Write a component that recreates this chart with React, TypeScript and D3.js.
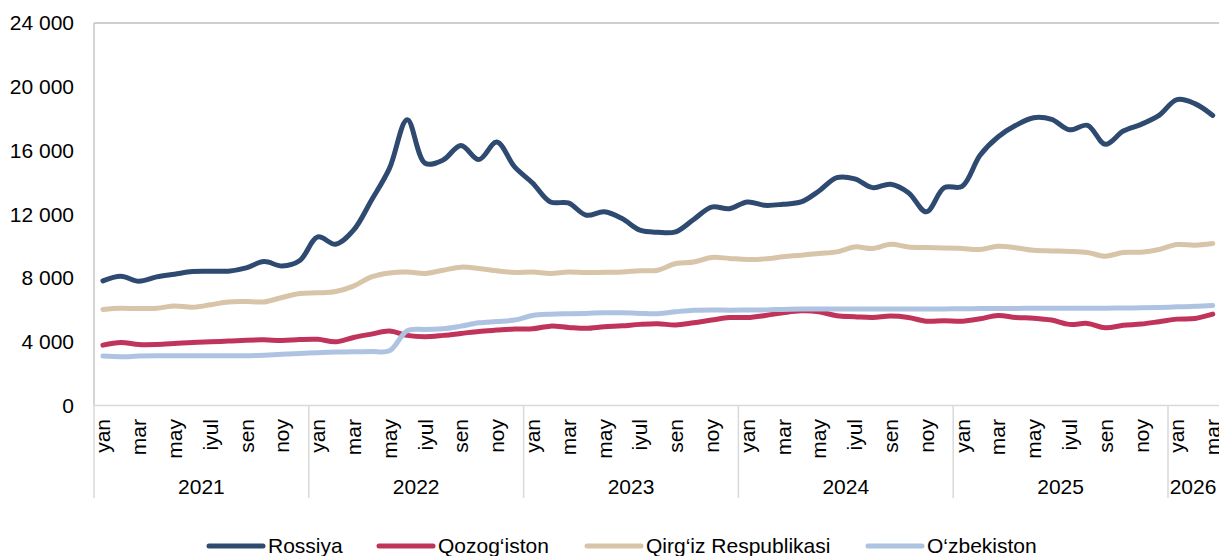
import React from "react";
import * as d3 from "d3";

const years = ["2021", "2022", "2023", "2024", "2025", "2026"];
const monthNames = ["yan", "fev", "mar", "apr", "may", "iyun", "iyul", "avg", "sen", "okt", "noy", "dek"];
const yTicks = [0, 4000, 8000, 12000, 16000, 20000, 24000];

const rossiya = [
  7.82, 8.11, 7.8, 8.07, 8.24, 8.41, 8.43, 8.43, 8.64, 9.03, 8.76, 9.1,
  10.58, 10.12, 11.0, 12.88, 14.86, 17.93, 15.2, 15.4, 16.32, 15.43, 16.53, 14.97,
  13.96, 12.77, 12.71, 11.94, 12.15, 11.73, 11.0, 10.87, 10.9, 11.67, 12.45, 12.35,
  12.77, 12.56, 12.63, 12.77, 13.46, 14.3, 14.22, 13.67, 13.88, 13.35, 12.15, 13.67,
  13.75, 15.7, 16.85, 17.58, 18.06, 17.95, 17.3, 17.58, 16.39, 17.22, 17.64, 18.2,
  19.19, 18.94, 18.2,
];
const qozogiston = [
  3.79, 3.96, 3.83, 3.83, 3.89, 3.96, 4.0, 4.04, 4.1, 4.12, 4.08, 4.14,
  4.15, 4.0, 4.27, 4.48, 4.67, 4.4, 4.32, 4.4, 4.52, 4.65, 4.73, 4.8,
  4.81, 4.98, 4.9, 4.84, 4.94, 5.0, 5.09, 5.13, 5.05, 5.19, 5.36, 5.52,
  5.52, 5.65, 5.82, 5.94, 5.88, 5.63, 5.57, 5.52, 5.61, 5.52, 5.29, 5.32,
  5.29, 5.44, 5.65, 5.52, 5.48, 5.36, 5.09, 5.15, 4.88, 5.03, 5.11, 5.26,
  5.42, 5.46, 5.73,
];
const qirgiz = [
  6.03, 6.1, 6.08, 6.1, 6.25, 6.17, 6.32, 6.5, 6.52, 6.5, 6.78, 7.03,
  7.07, 7.15, 7.49, 8.07, 8.32, 8.38, 8.28, 8.49, 8.68, 8.6, 8.45, 8.34,
  8.37, 8.28, 8.38, 8.34, 8.36, 8.38, 8.45, 8.49, 8.91, 9.0, 9.29, 9.23,
  9.16, 9.2, 9.33, 9.43, 9.54, 9.64, 9.95, 9.85, 10.12, 9.95, 9.91, 9.89,
  9.85, 9.79, 9.99, 9.9, 9.74, 9.7, 9.67, 9.6, 9.37, 9.6, 9.62, 9.79,
  10.1, 10.06, 10.16,
];
const ozbekiston = [
  3.1, 3.06, 3.1, 3.12, 3.12, 3.12, 3.12, 3.12, 3.12, 3.16, 3.22, 3.27,
  3.31, 3.35, 3.37, 3.39, 3.43, 4.69, 4.77, 4.81, 4.98, 5.19, 5.27, 5.36,
  5.65, 5.73, 5.76, 5.78, 5.82, 5.82, 5.78, 5.76, 5.88, 5.98, 6.0, 5.98,
  5.99, 6.0, 6.03, 6.05, 6.05, 6.05, 6.05, 6.05, 6.05, 6.05, 6.05, 6.06,
  6.07, 6.08, 6.08, 6.09, 6.1, 6.1, 6.1, 6.1, 6.1, 6.12, 6.13, 6.15,
  6.19, 6.22, 6.28,
];

const seriesNames = ["Rossiya", "Qozog\u2018iston", "Qirg\u2018iz Respublikasi", "O\u2018zbekiston"];
const seriesColors = ["#2E4A70", "#C0335A", "#D8C4A8", "#AEC3E1"];
const seriesData = [rossiya, qozogiston, qirgiz, ozbekiston];
const legendX = [209, 379, 587, 868];

const W = 1219;
const H = 556;
const FONT = "'Liberation Sans', Arial, sans-serif";
const FS = 21;

export default function App() {
  const n = rossiya.length;
  const left = 94;
  const step = 17.9;
  const right = left + n * step;
  const top = 23;
  const bottom = 405.5;

  const x = d3.scaleBand<number>().domain(d3.range(n)).range([left, right]).paddingInner(0).paddingOuter(0);
  const cx = (i: number) => (x(i) as number) + x.bandwidth() / 2;
  const y = d3.scaleLinear().domain([0, 24000]).range([bottom, top]);
  const fmt = d3.formatLocale({ thousands: " ", grouping: [3], decimal: ",", currency: ["", ""] }).format(",");

  const line = d3
    .line<number>()
    .x((_, i) => cx(i))
    .y((d) => y(d * 1000))
    .curve(d3.curveCatmullRom.alpha(0.5));

  const yearStarts = years.map((_, k) => k * 12);
  const yearEnds = years.map((_, k) => Math.min(n, (k + 1) * 12));

  return (
    <div style={{ position: "absolute", left: 0, top: 0, width: W, height: H, background: "#fff" }}>
      <svg width={W} height={H} style={{ display: "block", fontFamily: FONT }}>
        <line x1={left} x2={right} y1={top} y2={top} stroke="#bfbfbf" strokeWidth={1.3} />
        <line x1={left} x2={left} y1={top} y2={bottom} stroke="#bfbfbf" strokeWidth={1.3} />
        <line x1={left} x2={right} y1={bottom} y2={bottom} stroke="#d9d9d9" strokeWidth={1.5} />
        <line x1={left} x2={left} y1={bottom} y2={498} stroke="#d9d9d9" strokeWidth={1.5} />
        {yearEnds.map((e, k) => {
          const xe = e < n ? (x(e) as number) : right;
          return <line key={"sep" + k} x1={xe} x2={xe} y1={bottom} y2={498} stroke="#d9d9d9" strokeWidth={1.5} />;
        })}
        {yTicks.map((t) => (
          <text key={"yt" + t} x={74} y={y(t)} dy="0.35em" textAnchor="end" fontSize={FS} fill="#000">
            {fmt(t)}
          </text>
        ))}
        {d3.range(n).map((i) => {
          const m = i % 12;
          if (m % 2 !== 0) return null;
          return (
            <text
              key={"m" + i}
              transform={`translate(${cx(i)},419) rotate(-90)`}
              dy="0.35em"
              textAnchor="end"
              fontSize={FS}
              fill="#000"
            >
              {monthNames[m]}
            </text>
          );
        })}
        {years.map((yr, k) => {
          const x0 = x(yearStarts[k]) as number;
          const x1 = yearEnds[k] < n ? (x(yearEnds[k]) as number) : right;
          const mid = k === years.length - 1 ? Math.min((x0 + x1) / 2, 1193) : (x0 + x1) / 2;
          return (
            <text key={"yr" + yr} x={mid} y={494} textAnchor="middle" fontSize={FS} fill="#000">
              {yr}
            </text>
          );
        })}
        {seriesData.map((s, k) => (
          <path
            key={"s" + k}
            d={line(s) || ""}
            fill="none"
            stroke={seriesColors[k]}
            strokeWidth={5}
            strokeLinecap="round"
            strokeLinejoin="round"
          />
        ))}
        {seriesNames.map((name, k) => (
          <g key={"lg" + k}>
            <line x1={legendX[k]} x2={legendX[k] + 54} y1={546} y2={546} stroke={seriesColors[k]} strokeWidth={5} strokeLinecap="round" />
            <text x={legendX[k] + 59} y={546} dy="0.35em" fontSize={FS} fill="#000">
              {name}
            </text>
          </g>
        ))}
      </svg>
    </div>
  );
}
